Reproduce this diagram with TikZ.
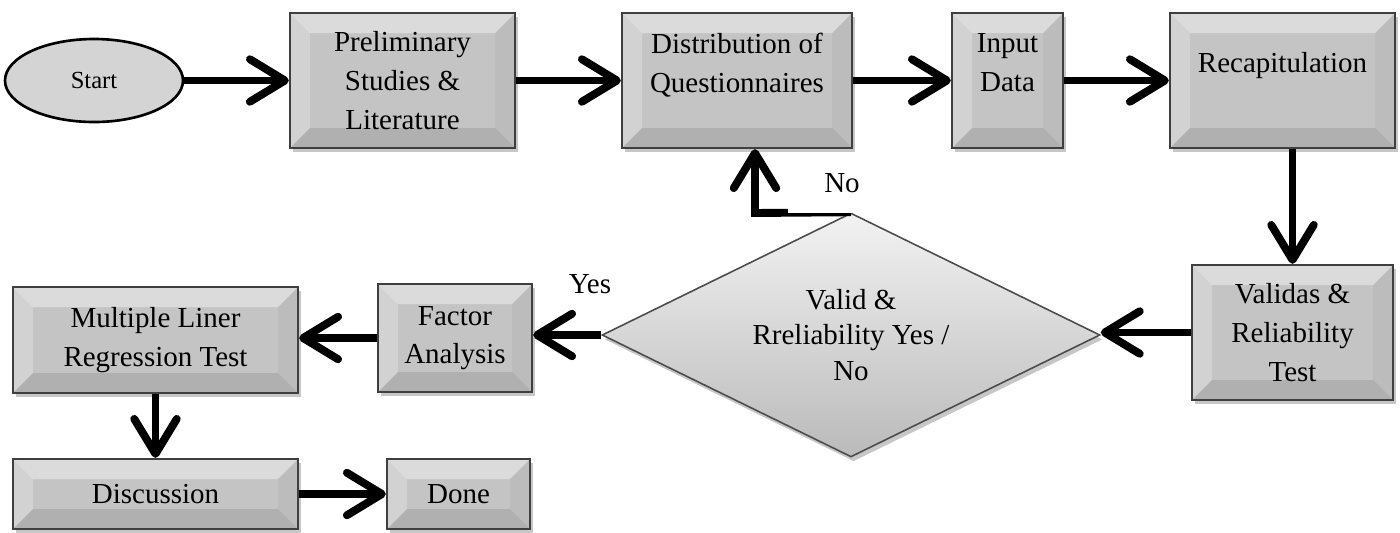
\documentclass[tikz,border=0pt]{standalone}
\usepackage{fontspec}
\setmainfont{Liberation Serif}
\usepackage{xcolor}
\usepackage{tikz}
\usetikzlibrary{shapes.geometric, arrows.meta, positioning, calc, shadows}
\definecolor{boxface}{HTML}{C4C4C4}
\definecolor{boxedge}{HTML}{3F3F3F}
\definecolor{ovalfill}{HTML}{D4D4D4}

\begin{document}
\begin{tikzpicture}[
    bevelbox/.style={rectangle, draw=boxedge, line width=1.3pt, fill=boxface, minimum height=2.7cm, align=center,
        font=\fontsize{16.5}{22}\selectfont,
        drop shadow={shadow xshift=1.5pt, shadow yshift=-2.5pt, fill=black, opacity=0.22},
        path picture={
            \coordinate (pnw) at (path picture bounding box.north west);
            \coordinate (pne) at (path picture bounding box.north east);
            \coordinate (psw) at (path picture bounding box.south west);
            \coordinate (pse) at (path picture bounding box.south east);
            \fill[white, opacity=0.4] (pnw) -- (pne) -- ([shift={(-0.4,-0.4)}]pne) -- ([shift={(0.4,-0.4)}]pnw) -- cycle;
            \fill[white, opacity=0.25] (pnw) -- (psw) -- ([shift={(0.4,0.4)}]psw) -- ([shift={(0.4,-0.4)}]pnw) -- cycle;
            \fill[black, opacity=0.1] (psw) -- (pse) -- ([shift={(-0.4,0.4)}]pse) -- ([shift={(0.4,0.4)}]psw) -- cycle;
            \fill[black, opacity=0.04] (pne) -- (pse) -- ([shift={(-0.4,0.4)}]pse) -- ([shift={(-0.4,-0.4)}]pne) -- cycle;
        }},
    topbox/.style={bevelbox, text depth=0.72cm},
    oval/.style={ellipse, draw=black, line width=1.5pt, fill=ovalfill, minimum width=3.56cm, minimum height=1.66cm, font=\fontsize{14}{16}\selectfont},
    decision/.style={diamond, aspect=2.04, draw=black!70, line width=0.9pt, top color=black!5, bottom color=black!27,
        minimum width=9.96cm, minimum height=4.88cm, inner sep=0pt, align=center, font=\fontsize{16.5}{20}\selectfont,
        drop shadow={shadow xshift=1.5pt, shadow yshift=-2.5pt, fill=black, opacity=0.22}},
    flow/.style={line width=4.5pt, -{Straight Barb[round, length=0.7cm, width=0.85cm]}},
    note/.style={font=\fontsize{16.5}{20}\selectfont}
]
\useasboundingbox (0,0) rectangle (28,-10.64);

% Top row
\node[oval] (start) at (1.88,-1.61) {Start};
\node[bevelbox, minimum width=4.5cm] (prelim) at (8.05,-1.61) {Preliminary\\Studies \&\\Literature};
\node[topbox, minimum width=4.6cm] (distrib) at (14.74,-1.61) {Distribution of\\Questionnaires};
\node[topbox, minimum width=2.22cm] (input) at (20.15,-1.61) {Input\\Data};
\node[topbox, minimum width=4.5cm] (recap) at (25.65,-1.61) {Recapitulation};

% Middle row
\node[bevelbox, minimum width=4.02cm] (validtest) at (25.85,-6.65) {Validas \&\\Reliability\\Test};
\node[decision] (check) at (17.02,-6.7) {Valid \&\\Rreliability Yes /\\No};
\node[bevelbox, minimum width=3.08cm, minimum height=2.16cm] (factor) at (9.1,-6.76) {Factor\\Analysis};
\node[bevelbox, minimum width=5.7cm, minimum height=2.12cm] (multiple) at (3.11,-6.8) {Multiple Liner\\Regression Test};

% Bottom row
\node[bevelbox, minimum width=5.7cm, minimum height=1.4cm] (discussion) at (3.11,-9.88) {Discussion};
\node[bevelbox, minimum width=2.86cm, minimum height=1.4cm] (done) at (9.17,-9.88) {Done};

% Connectors
\draw[flow] (start) -- (prelim);
\draw[flow] (prelim) -- (distrib);
\draw[flow] (distrib) -- (input);
\draw[flow] (input) -- (recap);
\draw[flow] (recap.south -| validtest.north) -- (validtest.north);
\draw[flow] (validtest.west) -- (validtest.west -| check.east);
\draw[flow] (check.west) -- (check.west -| factor.east);
\draw[flow] (factor.west) -- (factor.west -| multiple.east);
\draw[flow] (multiple) -- (discussion);
\draw[flow] (discussion) -- (done);
\coordinate (nobend) at (15.1,-4.26);
\draw[flow] (check.north) -- (nobend) -- (nobend |- distrib.south);

% Branch labels
\node[note, fill=white, minimum width=2.16cm, minimum height=1.18cm] (nolabel) at (16.84,-3.67) {No};
\node[note] (yeslabel) at (11.8,-5.68) {Yes};

\end{tikzpicture}
\end{document}
